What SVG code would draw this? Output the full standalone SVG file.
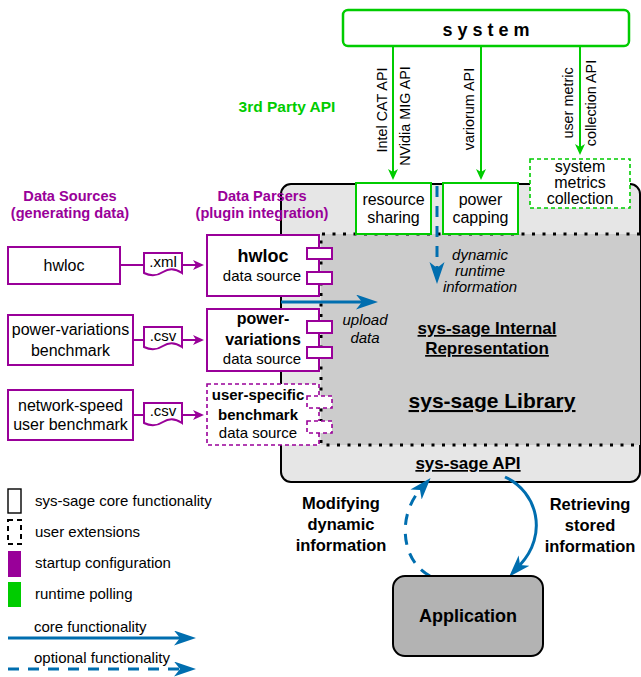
<svg xmlns="http://www.w3.org/2000/svg" width="641" height="677" viewBox="0 0 641 677">
<style>
text{font-family:"Liberation Sans",Arial,sans-serif;fill:#000}
.c{text-anchor:middle}
.b{font-weight:bold}
.i{font-style:italic}
.u{text-decoration:underline}
.pur{fill:#990099}
.grn{fill:#00cc00}
.pbox{fill:#fff;stroke:#990099;stroke-width:2}
.pdash{fill:#fff;stroke:#990099;stroke-width:1.6;stroke-dasharray:4 3}
.gbox{fill:#fff;stroke:#00cc00;stroke-width:2}
.gline{fill:none;stroke:#00cc00;stroke-width:2}
.pline{fill:none;stroke:#990099;stroke-width:2}
.bline{fill:none;stroke:#006eaf;stroke-width:3}
.bdash{fill:none;stroke:#006eaf;stroke-width:3;stroke-dasharray:11 9}
</style>
<defs>
<marker id="ab" markerUnits="userSpaceOnUse" markerWidth="24" markerHeight="16" refX="6" refY="7.5" orient="auto"><path d="M0,0 L22,7.5 L0,15 L6,7.5 Z" fill="#006eaf"/></marker>
<marker id="ap" markerUnits="userSpaceOnUse" markerWidth="12" markerHeight="12" refX="3" refY="5" orient="auto"><path d="M0,0 L11,5 L0,10 L3,5 Z" fill="#990099"/></marker>
<marker id="ag" markerUnits="userSpaceOnUse" markerWidth="12" markerHeight="12" refX="3" refY="5" orient="auto"><path d="M0,0 L11,5 L0,10 L3,5 Z" fill="#00cc00"/></marker>
</defs>

<g id="library">
<rect x="281" y="184" width="359" height="298" rx="10" fill="#e6e6e6" stroke="#000" stroke-width="2"/>
<rect x="321" y="234" width="319" height="211" fill="#cccccc"/>
<path d="M640,234 H321 V445 H640" fill="none" stroke="#000" stroke-width="3" stroke-dasharray="3 7.5"/>
<text class="c b u" x="487" y="334" font-size="17">sys-sage Internal</text>
<text class="c b u" x="487" y="354" font-size="17">Representation</text>
<text class="c b u" x="492" y="408" font-size="21">sys-sage Library</text>
<text class="c b u" x="468" y="469" font-size="17">sys-sage API</text>
</g>

<g id="connectors">
<path class="bdash" d="M437,186 V268" marker-end="url(#ab)"/>
<path class="gline" d="M393,46 V172" marker-end="url(#ag)"/>
<path class="gline" d="M481,46 V172" marker-end="url(#ag)"/>
<path class="gline" d="M580,46 V147" marker-end="url(#ag)"/>
<path class="pline" d="M120,265 H144 M182,265 H196" marker-end="url(#ap)"/>
<path class="pline" d="M133,340 H144 M182,340 H196" marker-end="url(#ap)"/>
<path class="pline" d="M133,415 H144 M182,415 H196" marker-end="url(#ap)"/>
<path class="bline" d="M505,477 C538,492 548,535 520,565" marker-end="url(#ab)"/>
<path class="bdash" d="M430,576 C400,560 398,515 420,490" marker-end="url(#ab)"/>
</g>

<g id="system">
<rect x="343" y="10" width="286" height="36" rx="5" fill="#fff" stroke="#00cc00" stroke-width="2.5"/>
<text class="c b" x="486" y="36" font-size="18">s y s t e m</text>
</g>
<text transform="translate(387,110) rotate(-90)" class="c" font-size="14.4">Intel CAT API</text>
<text transform="translate(410,116) rotate(-90)" class="c" font-size="14.4">NVidia MIG API</text>
<text transform="translate(474,109) rotate(-90)" class="c" font-size="14.4">variorum API</text>
<text transform="translate(573,103) rotate(-90)" class="c" font-size="14.4">user metric</text>
<text transform="translate(596,103) rotate(-90)" class="c" font-size="14.4">collection API</text>
<text class="c b grn" x="287" y="112" font-size="15.5">3rd Party API</text>

<g id="resource-sharing">
<rect class="gbox" x="356" y="183" width="75" height="51"/>
<text class="c" x="393.5" y="205" font-size="16">resource</text>
<text class="c" x="393.5" y="223" font-size="16">sharing</text>
</g>
<g id="power-capping">
<rect class="gbox" x="443" y="183" width="75" height="51"/>
<text class="c" x="480.5" y="205" font-size="16">power</text>
<text class="c" x="480.5" y="223" font-size="16">capping</text>
</g>
<g id="system-metrics">
<rect x="530" y="159" width="100" height="49" fill="#fff" stroke="#00cc00" stroke-width="1.6" stroke-dasharray="4 3"/>
<text class="c" x="580" y="172" font-size="16">system</text>
<text class="c" x="580" y="188" font-size="16">metrics</text>
<text class="c" x="580" y="204" font-size="16">collection</text>
</g>

<text class="c i" x="480" y="260" font-size="15">dynamic</text>
<text class="c i" x="480" y="276" font-size="15">runtime</text>
<text class="c i" x="480" y="292" font-size="15">information</text>

<path class="bline" d="M281,302 H362" marker-end="url(#ab)"/>
<text class="c i" x="365" y="325" font-size="15">upload</text>
<text class="c i" x="365" y="343" font-size="15">data</text>

<text class="c b pur" x="70" y="201" font-size="14.6">Data Sources</text>
<text class="c b pur" x="70" y="218" font-size="14.6">(generating data)</text>
<text class="c b pur" x="262" y="201" font-size="14.6">Data Parsers</text>
<text class="c b pur" x="262" y="218" font-size="14.6">(plugin integration)</text>

<g id="src-hwloc">
<rect class="pbox" x="8" y="247" width="112" height="37"/>
<text class="c" x="64" y="271" font-size="16">hwloc</text>
</g>
<g id="src-power">
<rect class="pbox" x="8" y="315" width="125" height="50"/>
<text class="c" x="70.5" y="335" font-size="16">power-variations</text>
<text class="c" x="70.5" y="356" font-size="16">benchmark</text>
</g>
<g id="src-network">
<rect class="pbox" x="8" y="390" width="125" height="50"/>
<text class="c" x="70.5" y="411" font-size="16">network-speed</text>
<text class="c" x="70.5" y="430" font-size="16">user benchmark</text>
</g>

<g id="doc-xml">
<path class="pbox" d="M144,253 H182 V273 Q172,266 163,272 T144,273 Z"/>
<text class="c" x="163" y="267" font-size="15">.xml</text>
</g>
<g id="doc-csv1">
<path class="pbox" d="M144,327 H182 V347 Q172,340 163,346 T144,347 Z"/>
<text class="c" x="163" y="341" font-size="15">.csv</text>
</g>
<g id="doc-csv2">
<path class="pbox" d="M144,403 H182 V423 Q172,416 163,422 T144,423 Z"/>
<text class="c" x="163" y="416" font-size="15">.csv</text>
</g>

<g id="parser-hwloc">
<rect class="pbox" x="207" y="235" width="112" height="61"/>
<rect class="pbox" x="307" y="248" width="25" height="11"/>
<rect class="pbox" x="307" y="272" width="25" height="12"/>
<text class="c b" x="263" y="262" font-size="18">hwloc</text>
<text class="c" x="262" y="281" font-size="15">data source</text>
</g>
<g id="parser-power">
<rect class="pbox" x="207" y="309" width="112" height="62"/>
<rect class="pbox" x="307" y="321" width="25" height="12"/>
<rect class="pbox" x="307" y="347" width="25" height="11"/>
<text class="c b" x="263" y="324" font-size="16">power-</text>
<text class="c b" x="263" y="345" font-size="16">variations</text>
<text class="c" x="262" y="364" font-size="15">data source</text>
</g>
<g id="parser-user">
<rect class="pdash" x="207" y="384" width="112" height="61"/>
<rect class="pdash" x="307" y="396" width="25" height="12"/>
<rect class="pdash" x="307" y="421" width="25" height="12"/>
<text class="c b" x="258" y="400" font-size="15">user-specific</text>
<text class="c b" x="258" y="420" font-size="15">benchmark</text>
<text class="c" x="258" y="438" font-size="15">data source</text>
</g>

<g id="application">
<rect x="393" y="576" width="150" height="80" rx="12" fill="#b3b3b3" stroke="#000" stroke-width="2"/>
<text class="c b" x="468" y="622" font-size="18">Application</text>
</g>

<text class="c b" x="341" y="509" font-size="16.5">Modifying</text>
<text class="c b" x="341" y="530" font-size="16.5">dynamic</text>
<text class="c b" x="341" y="551" font-size="16.5">information</text>
<text class="c b" x="590" y="510" font-size="16.5">Retrieving</text>
<text class="c b" x="590" y="531" font-size="16.5">stored</text>
<text class="c b" x="590" y="552" font-size="16.5">information</text>

<g id="legend">
<rect x="8" y="489" width="13" height="24" fill="#fff" stroke="#000" stroke-width="1.4"/>
<rect x="8" y="520" width="13" height="24" fill="#fff" stroke="#000" stroke-width="2" stroke-dasharray="5 4"/>
<rect x="8" y="551" width="13" height="26" fill="#990099"/>
<rect x="8" y="582" width="13" height="25" fill="#00cc00"/>
<text x="35" y="506" font-size="15">sys-sage core functionality</text>
<text x="35" y="537" font-size="15">user extensions</text>
<text x="35" y="568" font-size="15">startup configuration</text>
<text x="35" y="599" font-size="15">runtime polling</text>
<text x="34" y="632" font-size="15">core functionality</text>
<text x="34" y="663" font-size="15">optional functionality</text>
<path class="bline" d="M8,638 H180" marker-end="url(#ab)"/>
<path class="bdash" d="M8,669 H180" marker-end="url(#ab)"/>
</g>
</svg>
